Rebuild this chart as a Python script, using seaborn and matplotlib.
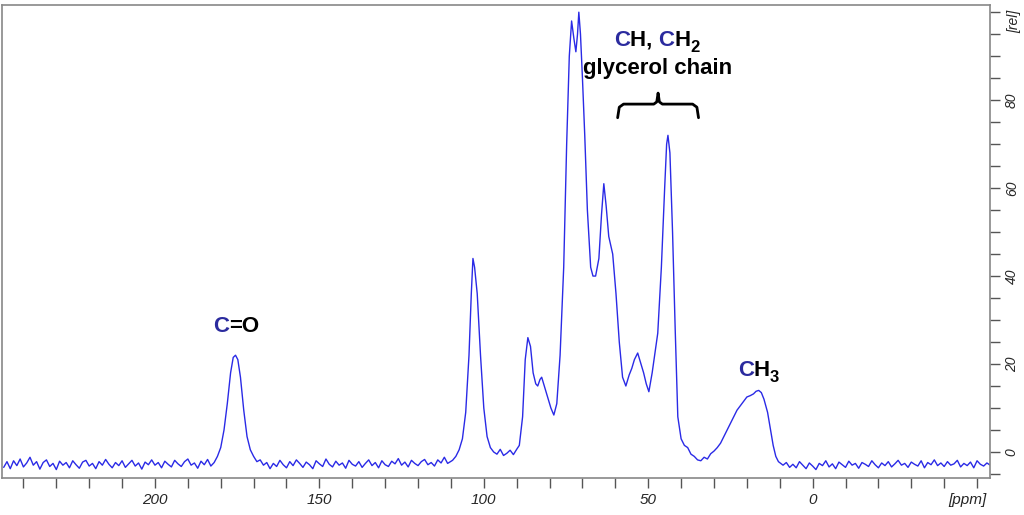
import matplotlib
matplotlib.use("Agg")
import matplotlib.pyplot as plt
import seaborn as sns
import numpy as np
import pandas as pd
from matplotlib.ticker import MultipleLocator

# baseline stretches (1 ppm spacing, starting ppm given)
base_left_start = 246
base_left = [-3.5, -2.2, -3.8, -2.0, -3.1, -1.6, -3.4, -2.5, -1.2, -3.0,
             -2.2, -3.9, -2.4, -1.8, -3.3, -2.6, -4.0, -2.1, -3.0, -2.4,
             -3.6, -2.0, -2.9, -3.7, -2.3, -1.9, -3.2, -2.6, -3.8, -2.2,
             -3.0, -1.7, -2.8, -3.6, -2.4, -3.1, -2.0, -3.5, -2.7, -1.9,
             -3.2, -2.5, -3.9, -2.3, -2.9, -1.8, -3.0, -2.4, -3.6, -2.1,
             -2.8, -3.4, -1.9, -2.7, -3.3, -2.2, -1.6, -3.0, -2.5, -3.7,
             -2.1, -2.9, -1.7, -3.2, -2.4]
peak_co = [(181.0, -1.0), (180.0, 1.0), (179.0, 5.0), (178.0, 11.0), (177.0, 18.0), (176.2, 21.5),
           (175.5, 22.0), (174.8, 21.0), (174.0, 17.0), (173.0, 9.5), (172.0, 3.5), (171.0, 0.5),
           (170.0, -1.0), (169.0, -2.2), (168.0, -1.8)]
base_mid_start = 167
base_mid = [-3.0, -2.4, -3.8, -2.6, -3.3, -1.9, -2.9, -3.6, -2.2, -3.1,
            -1.8, -2.6, -3.5, -2.3, -2.9, -3.8, -2.0, -2.7, -3.3, -1.6,
            -2.8, -3.4, -2.1, -3.0, -2.5, -3.7, -1.9, -2.8, -3.2, -2.2,
            -3.5, -2.6, -1.8, -3.1, -2.4, -3.6, -2.0, -2.9, -3.3, -2.1,
            -2.7, -1.5, -3.0, -2.3, -3.4, -1.9, -2.6, -3.1, -2.2, -1.7,
            -2.9, -2.4, -3.2, -1.8, -2.5, -1.2, -2.6]
peaks_main = [(109.5, -1.9), (108.5, -1.0), (107.5, 0.5), (106.5, 3.0), (105.5, 9.0), (104.5, 22.0),
              (103.8, 36.0), (103.3, 44.0), (102.8, 42.0), (102.0, 36.0), (101.0, 22.0), (100.0, 10.0),
              (99.0, 3.5), (98.0, 1.0), (97.0, 0.0), (96.0, -0.5), (95.0, 0.6), (94.0, -0.8), (93.0, -0.3),
              (92.0, 0.4), (91.0, -0.6), (90.0, 0.6), (89.2, 1.5), (88.2, 8.0), (87.4, 21.0), (86.6, 26.0),
              (85.8, 24.0), (85.0, 18.0), (84.2, 15.5), (83.6, 15.0), (82.9, 16.5), (82.4, 17.0), (81.6, 15.0),
              (80.6, 12.5), (79.6, 10.0), (78.7, 8.4), (77.8, 11.0), (76.8, 22.0), (75.7, 42.0), (74.8, 70.0),
              (74.0, 90.0), (73.3, 98.0), (72.6, 94.0), (72.0, 91.0), (71.5, 95.0), (71.1, 100.0), (70.6, 95.0),
              (70.0, 85.0), (69.3, 72.0), (68.5, 55.0), (67.5, 42.0), (66.8, 40.0), (66.0, 40.0), (65.0, 44.0),
              (64.2, 54.0), (63.5, 61.0), (62.8, 56.0), (62.0, 49.0), (60.8, 45.0), (59.8, 36.0), (58.8, 25.0),
              (57.8, 17.0), (56.8, 15.0), (55.8, 17.5), (55.0, 19.0), (54.2, 21.0), (53.2, 22.5), (52.2, 20.0),
              (51.4, 18.0), (50.6, 15.5), (49.8, 13.7), (48.8, 18.0), (47.1, 27.0), (46.0, 42.0), (45.0, 60.0),
              (44.4, 70.0), (44.0, 72.0), (43.4, 68.0), (42.6, 50.0), (41.8, 28.0), (41.0, 8.0), (40.0, 3.0),
              (39.0, 1.5), (38.0, 1.0), (37.0, -0.5), (36.0, -1.0), (35.0, -1.8), (34.0, -2.0), (33.0, -1.2),
              (32.0, -1.6), (31.0, -0.4), (30.0, 0.2), (29.0, 1.0), (28.0, 2.0), (27.0, 3.5), (26.0, 5.0),
              (25.0, 6.5), (24.0, 8.0), (23.0, 9.5), (22.0, 10.5), (21.0, 11.5), (20.0, 12.5), (19.0, 12.8),
              (18.0, 13.2), (17.2, 13.8), (16.4, 14.0), (15.6, 13.5), (14.8, 12.0), (13.7, 9.0), (12.8, 5.0),
              (12.0, 1.5), (11.2, -1.0), (10.4, -2.2)]
base_right_start = 9
base_right = [-3.0, -2.4, -3.5, -2.8, -3.6, -2.2, -3.0, -3.8, -2.5, -3.2,
              -4.0, -2.6, -3.1, -2.0, -3.4, -2.7, -3.8, -2.3, -2.9, -3.5,
              -2.1, -3.0, -2.6, -3.7, -2.4, -2.8, -3.3, -2.0, -2.9, -3.6,
              -2.5, -3.1, -2.2, -3.4, -2.7, -1.9, -3.0, -2.6, -3.5, -2.3,
              -2.8, -3.2, -2.0, -3.6, -2.4, -2.9, -1.8, -3.1, -2.5, -3.3,
              -2.2, -3.0, -2.7, -1.9, -3.4, -2.6, -3.1, -2.3, -3.6, -2.0,
              -2.8, -3.2, -2.5, -3.0]

xticks = [200, 150, 100, 50, 0]
yticks = [0, 20, 40, 60, 80]

ppm = (list(base_left_start - np.arange(len(base_left))) + [p for p, _ in peak_co]
       + list(base_mid_start - np.arange(len(base_mid))) + [p for p, _ in peaks_main]
       + list(base_right_start - np.arange(len(base_right))))
rel = (base_left + [v for _, v in peak_co] + base_mid + [v for _, v in peaks_main] + base_right)
df = pd.DataFrame({"ppm": np.asarray(ppm, float), "rel": rel})

sns.set_style("white")
fig = plt.figure(figsize=(10.24, 5.15), dpi=100)
ax = fig.add_axes([0.002, 0.072, 0.965, 0.918])
sns.lineplot(data=df, x="ppm", y="rel", sort=False, color="#2a2ae6", linewidth=1.0, ax=ax)

ax.set_xlim(246.5, -54)
ax.set_ylim(-5.9, 101.6)
ax.set_xlabel("")
ax.set_ylabel("")
for s in ax.spines.values():
    s.set_color("#888888")
    s.set_linewidth(1.2)

ax.xaxis.set_minor_locator(MultipleLocator(10))
ax.yaxis.set_minor_locator(MultipleLocator(5))
ax.yaxis.tick_right()
ax.tick_params(axis="both", which="both", direction="out", color="#555555", width=1, length=7,
               bottom=True, right=True, left=False, top=False)
ax.set_xticks(xticks)
ax.set_xticklabels([str(t) for t in xticks], fontsize=11, style="italic", family="Liberation Sans")
ax.set_yticks(yticks)
ax.set_yticklabels([str(t) for t in yticks], fontsize=10, style="italic", rotation=90, va="center",
                   family="Liberation Sans")
ax.text(-47, -9.3, "[ppm]", fontsize=11, style="italic", ha="center", va="top", family="Liberation Sans",
        clip_on=False)
ax.text(1.024, 0.965, "[rel]", transform=ax.transAxes, fontsize=10, style="italic", rotation=90,
        ha="center", va="center", family="Liberation Sans")

blue = "#2b2b9e"
FS = 16
fig.canvas.draw()
renderer = fig.canvas.get_renderer()


def rich(x, y, pieces, center=False):
    arts = []
    off = 0.0
    for txt, col, sub in pieces:
        t = ax.annotate(txt, (x, y), xytext=(off, -5 if sub else 0), textcoords="offset points",
                        fontsize=FS * 0.75 if sub else FS, fontweight="bold", family="Liberation Sans",
                        color=col, va="center", ha="left")
        w = t.get_window_extent(renderer).width * 72 / fig.dpi
        off += w
        arts.append(t)
    if center:
        for t in arts:
            ox, oy = t.xyann
            t.xyann = (ox - off / 2, oy)
    return arts


rich(175.4, 28.6, [("C", blue, False), ("=O", "black", False)], center=True)
rich(16.5, 18.6, [("C", blue, False), ("H", "black", False), ("3", "black", True)], center=True)
rich(47.3, 93.6, [("C", blue, False), ("H, ", "black", False), ("C", blue, False), ("H", "black", False),
                  ("2", "black", True)], center=True)
ax.text(47.3, 87.2, "glycerol chain", color="black", ha="center", va="center", fontsize=FS,
        fontweight="bold", family="Liberation Sans")

bx = [59.3, 58.8, 57.5, 48.3, 47.4, 47.0, 46.6, 45.7, 36.5, 35.2, 34.7]
by = [76.0, 78.4, 79.1, 79.1, 79.6, 81.6, 79.6, 79.1, 79.1, 78.4, 76.0]
ax.plot(bx, by, color="black", linewidth=2.0)

fig.savefig("out.png", dpi=100)
